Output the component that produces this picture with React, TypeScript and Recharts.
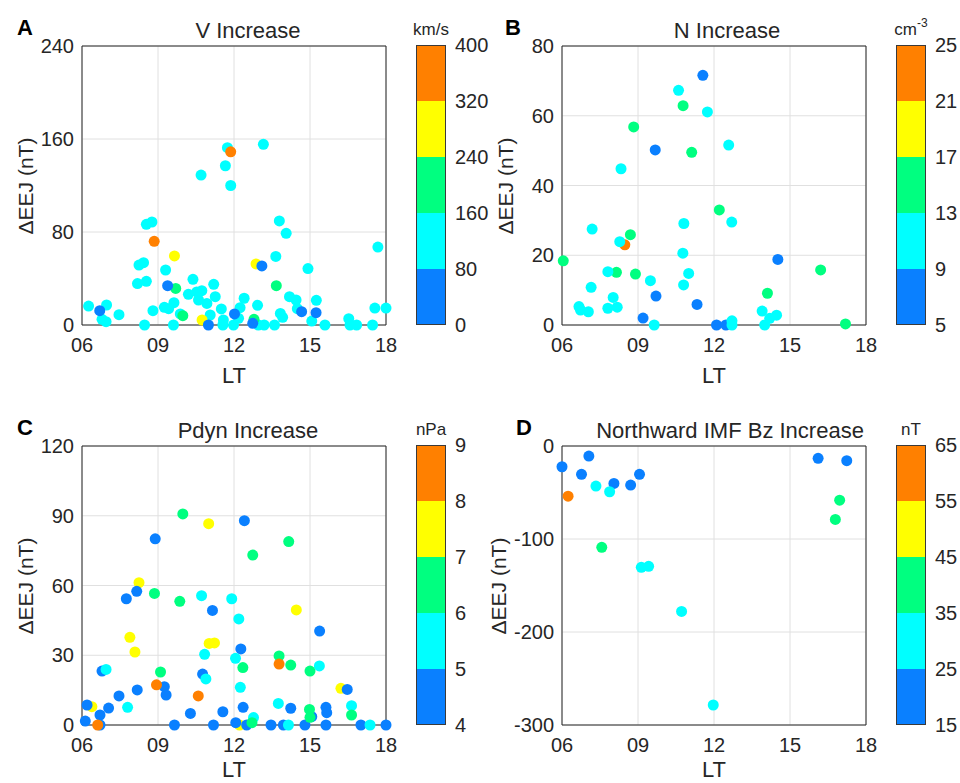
import { ScatterChart, Scatter, XAxis, YAxis, CartesianGrid, ReferenceArea, BarChart, Bar } from "recharts"

const ltTicks = [6, 9, 12, 15, 18]
const ltLabels = ["06", "09", "12", "15", "18"]
const jetColors = ["#0A80FF", "#00FFFF", "#00FF80", "#FFFF00", "#FF8000"]
const axisColor = "#262626"

// A: V increase
const aLT = [
  11.74, 13.16, 11.66, 10.7, 11.87, 8.54, 8.76, 13.79, 14.06, 17.68, 13.65, 8.25, 8.43, 14.92, 9.3, 8.19, 8.54,
  10.38, 11.2, 10.2, 10.53, 10.73, 10.6, 10.93, 11.26, 12.4, 9.63, 9.25, 9.42, 8.8, 11.5, 12.24, 12.93, 14.19,
  14.45, 14.5, 15.25, 13.83, 13.92, 9.88, 11.06, 6.26, 6.97, 7.46, 6.79, 6.95, 8.47, 9.61, 11.58, 11.56, 11.98,
  12.18, 12.96, 13.19, 13.6, 15.07, 15.59, 16.53, 16.58, 16.84, 17.47, 17.56, 18,
  9.7, 13.67, 9.98, 12.79, 9.65, 12.87, 10.74,
  6.7, 9.38, 13.1, 12.02, 10.99, 12.74, 14.67, 15.24,
  8.85, 11.87,
]
const aEEJ = [
  152.5, 155.4, 137, 129, 120, 86.6, 88.6, 89.5, 78.9, 67, 59, 51.6, 53.6, 48.5, 47.3, 35.6, 37.6,
  39.3, 35, 26.4, 28.4, 29.5, 21.5, 18.6, 24.4, 23, 19.2, 15.2, 14, 12.3, 13.8, 14.9, 16.9, 24.4,
  21.5, 14, 21.2, 10, 6.6, 9.5, 8.6, 16.3, 17.2, 8.9, 4.9, 2.9, 0, 0, 4.3, 0, 0,
  5.7, 0, 0, 0, 3.4, 0, 5.4, 0, 0, 0, 14.6, 14.6,
  31.5, 33.8, 8, 4.9, 59.4, 52.5, 4.3,
  12.3, 33.8, 50.8, 9.5, 0, 1.4, 11.5, 10.6,
  72, 149,
]
const aV = [
  120, 120, 120, 120, 120, 120, 120, 120, 120, 120, 120, 120, 120, 120, 120, 120, 120,
  120, 120, 120, 120, 120, 120, 120, 120, 120, 120, 120, 120, 120, 120, 120, 120, 120,
  120, 120, 120, 120, 120, 120, 120, 120, 120, 120, 120, 120, 120, 120, 120, 120, 120,
  120, 120, 120, 120, 120, 120, 120, 120, 120, 120, 120, 120,
  200, 200, 200, 200, 280, 280, 280,
  40, 40, 40, 40, 40, 40, 40, 40,
  360, 360,
]
const aTicks = [0, 80, 160, 240]
const aBar = [0, 80, 160, 240, 320, 400]

// B: N increase
const bLT = [
  8.48,
  11.56, 9.68, 9.71, 9.2, 11.33, 12.1, 12.47, 14.52,
  10.78, 8.83, 11.12, 12.21, 8.7, 8.15, 8.9, 6.05, 14.11, 16.21, 17.19,
  10.6, 11.74, 12.58, 8.33, 10.81, 12.7, 7.19, 8.28, 10.77, 11.0, 7.81, 10.8, 9.49, 7.15, 8.02, 6.67, 6.73,
  7.04, 7.81, 8.18, 9.64, 12.71, 12.71, 13.9, 14.0, 14.2, 14.47,
]
const bEEJ = [
  23,
  71.6, 50.2, 8.3, 2, 5.9, 0, 0, 18.8,
  62.9, 56.8, 49.5, 33, 25.9, 15.1, 14.6, 18.4, 9.1, 15.8, 0.3,
  67.3, 61.1, 51.6, 44.8, 29.1, 29.5, 27.5, 23.9, 20.6, 14.8, 15.3, 11.5, 12.7, 10.8, 7.9, 5.3, 4.3,
  3.8, 4.8, 5.1, 0, 1.2, 0, 4, 0, 1.9, 2.8,
]
const bN = [
  23,
  7, 7, 7, 7, 7, 7, 7, 7,
  15, 15, 15, 15, 15, 15, 15, 15, 15, 15, 15,
  11, 11, 11, 11, 11, 11, 11, 11, 11, 11, 11, 11, 11, 11, 11, 11, 11,
  11, 11, 11, 11, 11, 11, 11, 11, 11, 11,
]
const bTicks = [0, 20, 40, 60, 80]
const bBar = [5, 9, 13, 17, 21, 25]

// C: Pdyn increase
const cLT = [
  11.0, 14.46, 8.25, 7.89, 8.09, 11.02, 11.23, 16.22, 6.39, 12.22,
  12.41, 8.89, 8.16, 7.75, 11.15, 15.38, 12.27, 10.76, 6.79, 9.25, 9.32, 8.18, 7.46, 6.2, 7.05, 6.71, 6.13, 6.71,
  10.28, 11.56, 12.36, 12.07, 12.5, 9.65, 11.19, 13.46, 13.95, 14.24, 14.8, 15.07, 15.63, 15.66, 15.63, 16.47,
  17.01, 18,
  10.72, 11.91, 12.19, 10.84, 12.06, 10.89, 12.25, 6.95, 7.8, 15.37, 13.75, 12.77, 14.15, 16.64, 17.37,
  9.98, 14.16, 12.74, 8.86, 9.86, 13.78, 14.24, 12.35, 9.1, 15.0, 14.98, 15.0, 12.71, 16.64,
  8.94, 10.59, 13.78, 6.62,
]
const cEEJ = [
  86.6, 49.5, 61.2, 37.7, 31.4, 35.1, 35.3, 15.8, 7.9, 0,
  87.9, 80.1, 57.5, 54.3, 49.3, 40.4, 32.7, 21.9, 23.2, 16.5, 12.9, 15.1, 12.5, 8.6, 7.3, 4.3, 1.7, 0,
  5, 5.7, 7.6, 1, 0, 0, 0, 0, 0, 7.2, 0, 3.6, 7.6, 5.3, 0, 15.3,
  0, 0,
  55.6, 54.3, 45.6, 30.4, 28.7, 19.8, 16.2, 23.9, 7.6, 25.4, 9.3, 3.2, 0, 8.3, 0,
  90.8, 78.9, 73.1, 56.6, 53.2, 29.7, 25.8, 24.7, 22.8, 23.2, 6.7, 3.3, 1, 4.3,
  17.3, 12.5, 26.2, 0,
]
const cP = [
  7.5, 7.5, 7.5, 7.5, 7.5, 7.5, 7.5, 7.5, 7.5, 7.5,
  4.5, 4.5, 4.5, 4.5, 4.5, 4.5, 4.5, 4.5, 4.5, 4.5, 4.5, 4.5, 4.5, 4.5, 4.5, 4.5, 4.5, 4.5,
  4.5, 4.5, 4.5, 4.5, 4.5, 4.5, 4.5, 4.5, 4.5, 4.5, 4.5, 4.5, 4.5, 4.5, 4.5, 4.5,
  4.5, 4.5,
  5.5, 5.5, 5.5, 5.5, 5.5, 5.5, 5.5, 5.5, 5.5, 5.5, 5.5, 5.5, 5.5, 5.5, 5.5,
  6.5, 6.5, 6.5, 6.5, 6.5, 6.5, 6.5, 6.5, 6.5, 6.5, 6.5, 6.5, 6.5, 6.5,
  8.5, 8.5, 8.5, 8.5,
]
const cTicks = [0, 30, 60, 90, 120]
const cBar = [4, 5, 6, 7, 8, 9]

// D: northward IMF Bz increase
const dLT = [6.0, 7.06, 6.77, 8.05, 8.71, 9.06, 16.11, 17.24, 7.34, 7.88, 9.13, 9.42, 10.72, 11.97, 7.57, 16.96, 16.79, 6.24]
const dEEJ = [-22.3, -10.8, -30.5, -40.2, -42, -30.5, -13.3, -15.8, -43.1, -49.2, -130.4, -129.4, -177.9, -278.5, -108.9, -58.2, -79, -53.9]
const dBz = [20, 20, 20, 20, 20, 20, 20, 20, 30, 30, 30, 30, 30, 30, 40, 40, 40, 60]
const dTicks = [-300, -200, -100, 0]
const dBar = [15, 25, 35, 45, 55, 65]

function colorOf(v: number, bins: number[]) {
  for (let i = 0; i < bins.length - 1; i++) {
    if (v < bins[i + 1]) return jetColors[i]
  }
  return jetColors[jetColors.length - 1]
}

type PanelProps = {
  left: number
  top: number
  letter: string
  letterX: number
  title: string
  titleX: number
  unit: React.ReactNode
  yLabelX: number
  ltY: number
  lt: number[]
  eej: number[]
  cval: number[]
  yTicks: number[]
  bins: number[]
}

function ColorBar({ bins }: { bins: number[] }) {
  const idx = bins.map((_, i) => i)
  const row: Record<string, number | string> = { name: "cb" }
  bins.slice(1).forEach((_, i) => (row[`s${i}`] = 1))
  return (
    <div style={{ position: "absolute", left: 416, top: 35 }}>
      <BarChart width={80} height={300} data={[row]} margin={{ top: 10, right: 0, bottom: 10, left: 0 }} barCategoryGap={0}>
        <XAxis dataKey="name" hide />
        <YAxis
          orientation="right"
          type="number"
          width={50}
          domain={[0, bins.length - 1]}
          ticks={idx}
          interval={0}
          tickFormatter={(v) => String(bins[v])}
          tickSize={0}
          tickMargin={9}
          axisLine={false}
          tick={{ fill: axisColor, fontSize: 20 }}
        />
        {bins.slice(1).map((_, i) => (
          <Bar key={i} dataKey={`s${i}`} stackId="cb" fill={jetColors[i]} isAnimationActive={false} />
        ))}
      </BarChart>
      <div
        style={{
          position: "absolute",
          left: 0,
          top: 10,
          width: 30,
          height: 280,
          border: "1px solid #3a3a3a",
          boxSizing: "border-box",
        }}
      />
    </div>
  )
}

function Panel(p: PanelProps) {
  const rows = p.lt.map((x, i) => ({ lt: x, eej: p.eej[i], c: p.cval[i] }))
  const yMin = p.yTicks[0]
  const yMax = p.yTicks[p.yTicks.length - 1]
  return (
    <div style={{ position: "absolute", left: p.left, top: p.top, width: 480, height: 400 }}>
      <ScatterChart width={480} height={400} margin={{ top: 46, right: 94, bottom: 0, left: 0 }}>
        <CartesianGrid stroke="#e0e0e0" />
        <ReferenceArea x1={6} x2={18} y1={yMin} y2={yMax} fill="none" stroke={axisColor} strokeWidth={1} />
        <XAxis
          type="number"
          dataKey="lt"
          domain={[6, 18]}
          ticks={ltTicks}
          interval={0}
          tickFormatter={(v) => ltLabels[ltTicks.indexOf(v)]}
          height={75}
          tickSize={0}
          tickMargin={13}
          axisLine={false}
          tick={{ fill: axisColor, fontSize: 20 }}
        />
        <YAxis
          type="number"
          dataKey="eej"
          domain={[yMin, yMax]}
          ticks={p.yTicks}
          interval={0}
          width={82}
          tickSize={0}
          tickMargin={8}
          axisLine={false}
          tick={{ fill: axisColor, fontSize: 20 }}
        />
        <Scatter
          data={rows}
          isAnimationActive={false}
          shape={(s: any) => <circle cx={s.cx} cy={s.cy} r={5.5} fill={colorOf(s.payload.c, p.bins)} />}
        />
      </ScatterChart>
      <ColorBar bins={p.bins} />
      <svg width={480} height={400} style={{ position: "absolute", left: 0, top: 0, pointerEvents: "none", overflow: "visible" }}>
        <text x={p.letterX} y={35} fontSize={22} fontWeight="bold" fill="#000">
          {p.letter}
        </text>
        <text x={p.titleX} y={38} fontSize={22} textAnchor="middle" fill={axisColor}>
          {p.title}
        </text>
        <text x={431} y={35} fontSize={17} textAnchor="middle" fill={axisColor}>
          {p.unit}
        </text>
        <text transform={`translate(${p.yLabelX},186) rotate(-90)`} fontSize={21} textAnchor="middle" fill={axisColor}>
          ΔEEJ (nT)
        </text>
        <text x={234} y={p.ltY} fontSize={22} textAnchor="middle" fill={axisColor}>
          LT
        </text>
      </svg>
    </div>
  )
}

export default function App() {
  return (
    <div
      style={{
        position: "absolute",
        left: 0,
        top: 0,
        width: 960,
        height: 783,
        overflow: "hidden",
        background: "#fff",
        fontFamily: "'Liberation Sans', Arial, sans-serif",
      }}
    >
      <Panel left={0} top={0} letter="A" letterX={17} title="V Increase" titleX={248} unit="km/s"
        yLabelX={33} ltY={383}
        lt={aLT} eej={aEEJ} cval={aV} yTicks={aTicks} bins={aBar} />
      <Panel left={480} top={0} letter="B" letterX={25} title="N Increase" titleX={247}
        unit={<>cm<tspan dy={-8} fontSize={12}>-3</tspan></>}
        yLabelX={33} ltY={383}
        lt={bLT} eej={bEEJ} cval={bN} yTicks={bTicks} bins={bBar} />
      <Panel left={0} top={400} letter="C" letterX={17} title="Pdyn Increase" titleX={248} unit="nPa"
        yLabelX={33} ltY={377}
        lt={cLT} eej={cEEJ} cval={cP} yTicks={cTicks} bins={cBar} />
      <Panel left={480} top={400} letter="D" letterX={36} title="Northward IMF Bz Increase" titleX={250} unit="nT"
        yLabelX={26} ltY={377}
        lt={dLT} eej={dEEJ} cval={dBz} yTicks={dTicks} bins={dBar} />
    </div>
  )
}
